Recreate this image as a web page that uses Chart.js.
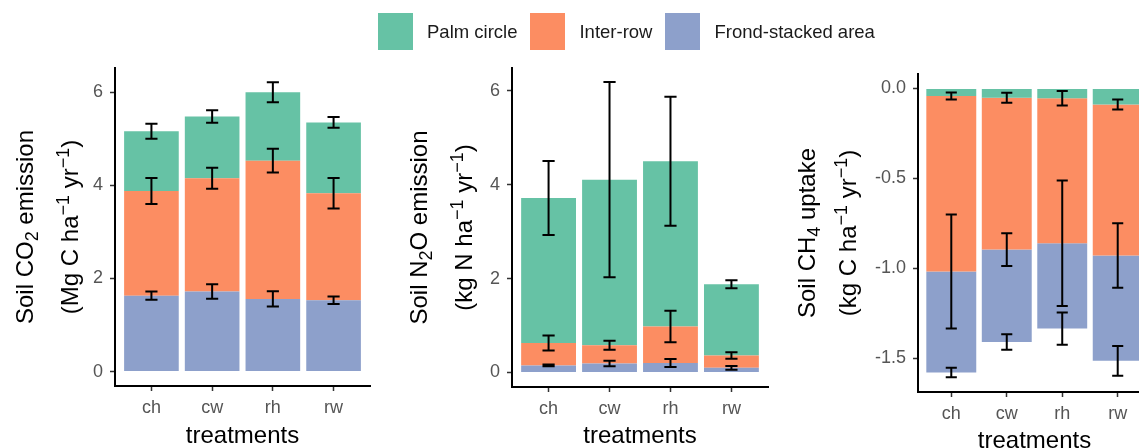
<!DOCTYPE html>
<html>
<head>
<meta charset="utf-8">
<script src="https://cdn.jsdelivr.net/npm/chart.js@4.4.1/dist/chart.umd.min.js"></script>
<style>
  body { margin: 0; background: #fff; }
  #wrap { position: relative; width: 1139px; height: 448px; overflow: hidden; font-family: 'Liberation Sans', Arial, sans-serif; }
  canvas { position: absolute; }
  #legend { position: absolute; left: 378px; top: 13px; display: flex; align-items: center; z-index: 2; }
  .item { display: flex; align-items: center; margin-right: 13px; font-size: 18.5px; color: #1a1a1a; }
  .sw { width: 35px; height: 37px; margin-right: 14px; }
</style>
</head>
<body>
<div id="wrap">
  <div id="legend"></div>
  <canvas id="co2" width="380" height="448" style="left:0;top:0"></canvas>
  <canvas id="n2o" width="390" height="448" style="left:395px;top:0"></canvas>
  <canvas id="ch4" width="380" height="448" style="left:780px;top:5px"></canvas>
</div>
<script>
// treatments on the x axis
const treatments = ['ch', 'cw', 'rh', 'rw'];
const seriesNames = ['Palm circle', 'Inter-row', 'Frond-stacked area'];
const seriesColors = ['#66C2A5', '#FC8D62', '#8DA0CB'];

// Soil CO2 emission (Mg C ha-1 yr-1), stacked segments + error (half range)
const co2Frond = [1.63, 1.72, 1.56, 1.53];
const co2Inter = [2.25, 2.43, 2.97, 2.30];
const co2Palm = [1.28, 1.33, 1.47, 1.52];
const co2FrondErr = [0.09, 0.155, 0.165, 0.08];
const co2InterErr = [0.28, 0.225, 0.255, 0.325];
const co2PalmErr = [0.16, 0.135, 0.215, 0.115];
const co2Ticks = [0, 2, 4, 6];

// Soil N2O emission (kg N ha-1 yr-1)
const n2oFrond = [0.15, 0.19, 0.20, 0.10];
const n2oInter = [0.48, 0.39, 0.78, 0.26];
const n2oPalm = [3.09, 3.53, 3.52, 1.52];
const n2oFrondErr = [0.02, 0.06, 0.085, 0.04];
const n2oInterErr = [0.16, 0.095, 0.335, 0.07];
const n2oPalmErr = [0.79, 2.08, 1.375, 0.085];
const n2oTicks = [0, 2, 4, 6];

// Soil CH4 uptake (kg C ha-1 yr-1), negative values
const ch4Palm = [-0.042, -0.052, -0.055, -0.089];
const ch4Inter = [-0.975, -0.843, -0.805, -0.839];
const ch4Frond = [-0.561, -0.513, -0.474, -0.585];
const ch4PalmErr = [0.019, 0.028, 0.04, 0.028];
const ch4InterErr = [0.317, 0.091, 0.349, 0.179];
const ch4FrondErr = [0.026, 0.043, 0.09, 0.083];
const ch4Ticks = [-1.5, -1.0, -0.5, 0.0];

// y axis titles: [text, 0 normal / -1 subscript / 1 superscript]
const co2Title = [[['Soil CO', 0], ['2', -1], [' emission', 0]],
                  [['(Mg C ha', 0], ['\u22121', 1], [' yr', 0], ['\u22121', 1], [')', 0]]];
const n2oTitle = [[['Soil N', 0], ['2', -1], ['O emission', 0]],
                  [['(kg N ha', 0], ['\u22121', 1], [' yr', 0], ['\u22121', 1], [')', 0]]];
const ch4Title = [[['Soil CH', 0], ['4', -1], [' uptake', 0]],
                  [['(kg C ha', 0], ['\u22121', 1], [' yr', 0], ['\u22121', 1], [')', 0]]];

Chart.defaults.font.family = "'Liberation Sans', Arial, sans-serif";

// legend (html)
const legendEl = document.getElementById('legend');
seriesNames.forEach((name, i) => {
    const item = document.createElement('div');
    item.className = 'item';
    item.innerHTML = `<div class="sw" style="background:${seriesColors[i]}"></div><span>${name}</span>`;
    legendEl.appendChild(item);
});

const errorBars = {
    id: 'errorBars',
    afterDatasetsDraw(chart) {
        const ctx = chart.ctx;
        const xs = chart.scales.x, ys = chart.scales.y;
        ctx.save();
        ctx.strokeStyle = '#000';
        ctx.lineWidth = 2;
        chart.data.datasets.forEach((ds, di) => {
            ds.data.forEach((pt, j) => {
                let cum = 0;
                for (let k = 0; k <= di; k++) cum += chart.data.datasets[k].data[j].y;
                const px = xs.getPixelForValue(pt.x);
                const half = xs.getPixelForValue(pt.x + 0.1) - px;
                const top = ys.getPixelForValue(cum + ds.err[j]);
                const bot = ys.getPixelForValue(cum - ds.err[j]);
                ctx.beginPath();
                ctx.moveTo(px, top); ctx.lineTo(px, bot);
                ctx.moveTo(px - half, top); ctx.lineTo(px + half, top);
                ctx.moveTo(px - half, bot); ctx.lineTo(px + half, bot);
                ctx.stroke();
            });
        });
        ctx.restore();
    }
};

function richWidth(ctx, parts, size) {
    let w = 0;
    parts.forEach(([t, s]) => {
        ctx.font = `${s ? size * 0.75 : size}px 'Liberation Sans', Arial, sans-serif`;
        w += ctx.measureText(t).width;
    });
    return w;
}

const yTitle = {
    id: 'yTitle',
    afterDraw(chart, args, opts) {
        const ctx = chart.ctx;
        const area = chart.chartArea;
        const cy = (area.top + area.bottom) / 2;
        const size = 24;
        ctx.save();
        ctx.fillStyle = '#000';
        ctx.textBaseline = 'alphabetic';
        ctx.textAlign = 'left';
        opts.lines.forEach((parts, li) => {
            const w = richWidth(ctx, parts, size);
            ctx.save();
            ctx.translate(area.left - opts.offsets[li], cy);
            ctx.rotate(-Math.PI / 2);
            let cx = -w / 2;
            parts.forEach(([t, s]) => {
                ctx.font = `${s ? size * 0.75 : size}px 'Liberation Sans', Arial, sans-serif`;
                const dy = s === -1 ? 5 : (s === 1 ? -9 : 0);
                ctx.fillText(t, cx, dy);
                cx += ctx.measureText(t).width;
            });
            ctx.restore();
        });
        ctx.restore();
    }
};

function toPoints(vals) {
    return vals.map((v, i) => ({ x: i + 1, y: v }));
}

function makeChart(id, sets, yMin, yMax, yTicks, tickFmt, title, offsets, yWidth, padTop, padRight, xHeight) {
    const datasets = sets.map(s => ({
        label: seriesNames[s.idx],
        data: toPoints(s.vals),
        err: s.err,
        backgroundColor: seriesColors[s.idx],
        borderWidth: 0,
        categoryPercentage: 0.9,
        barPercentage: 1.0
    }));
    return new Chart(document.getElementById(id), {
        type: 'bar',
        data: { datasets },
        options: {
            responsive: false,
            animation: false,
            layout: { padding: { top: padTop, right: padRight, left: 0, bottom: 0 } },
            plugins: {
                legend: { display: false },
                tooltip: { enabled: false },
                yTitle: { lines: title, offsets: offsets }
            },
            scales: {
                x: {
                    type: 'linear',
                    min: 0.4,
                    max: 4.6,
                    offset: false,
                    stacked: true,
                    afterBuildTicks: s => { s.ticks = treatments.map((_, i) => ({ value: i + 1 })); },
                    afterFit: s => { s.height = xHeight; },
                    ticks: {
                        callback: v => treatments[v - 1],
                        font: { size: 18 },
                        color: '#555',
                        padding: 6,
                        maxRotation: 0
                    },
                    grid: { display: true, offset: false, drawOnChartArea: false, drawTicks: true, tickLength: 5, tickColor: '#333', tickWidth: 1.5 },
                    border: { display: true, color: '#000', width: 2 },
                    title: { display: true, text: 'treatments', color: '#000', font: { size: 24, lineHeight: 1.0 }, padding: 0 }
                },
                y: {
                    min: yMin,
                    max: yMax,
                    stacked: true,
                    afterBuildTicks: s => { s.ticks = yTicks.map(v => ({ value: v })); },
                    afterFit: s => { s.width = yWidth; },
                    ticks: {
                        callback: tickFmt,
                        font: { size: 18 },
                        color: '#555',
                        padding: 7
                    },
                    grid: { display: true, drawOnChartArea: false, drawTicks: true, tickLength: 5, tickColor: '#333', tickWidth: 1.5 },
                    border: { display: true, color: '#000', width: 2 }
                }
            }
        },
        plugins: [errorBars, yTitle]
    });
}

window.onload = () => {
    makeChart('co2', [
        { idx: 2, vals: co2Frond, err: co2FrondErr },
        { idx: 1, vals: co2Inter, err: co2InterErr },
        { idx: 0, vals: co2Palm, err: co2PalmErr }
    ], -0.31, 6.52, co2Ticks, v => String(v), co2Title, [82, 37], 115, 68, 10, 62);

    makeChart('n2o', [
        { idx: 2, vals: n2oFrond, err: n2oFrondErr },
        { idx: 1, vals: n2oInter, err: n2oInterErr },
        { idx: 0, vals: n2oPalm, err: n2oPalmErr }
    ], -0.31, 6.49, n2oTicks, v => String(v), n2oTitle, [85, 40], 117, 68, 17, 61);

    makeChart('ch4', [
        { idx: 0, vals: ch4Palm, err: ch4PalmErr },
        { idx: 1, vals: ch4Inter, err: ch4InterErr },
        { idx: 2, vals: ch4Frond, err: ch4FrondErr }
    ], -1.686, 0.08, ch4Ticks, v => v.toFixed(1), ch4Title, [103, 62], 138, 69, 9, 61);
};
</script>
</body>
</html>
